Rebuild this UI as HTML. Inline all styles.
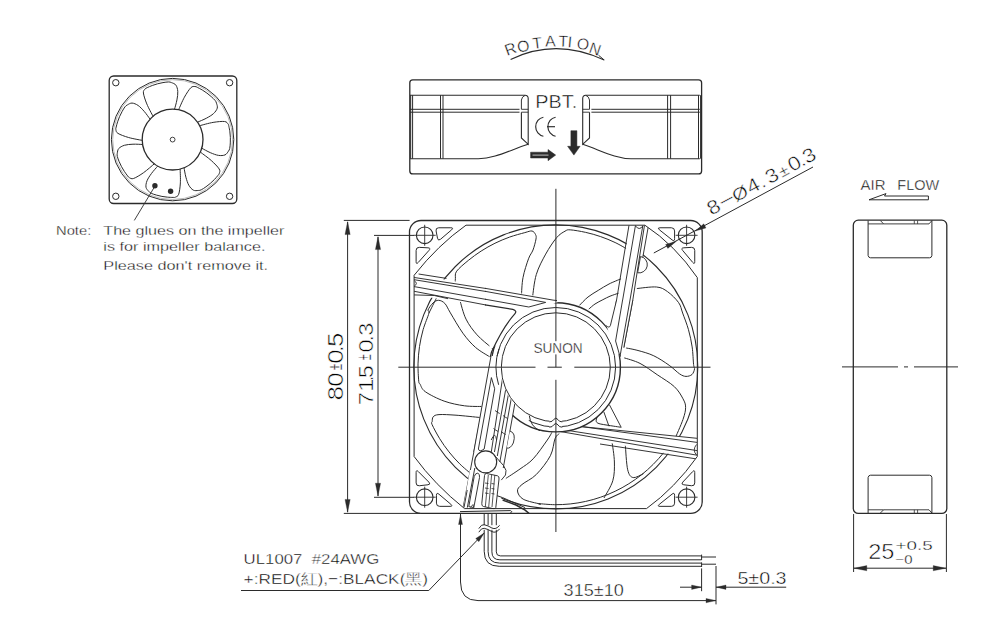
<!DOCTYPE html>
<html><head><meta charset="utf-8"><style>
html,body{margin:0;padding:0;background:#fff;width:1000px;height:639px;overflow:hidden}
svg{display:block;font-family:"Liberation Sans",sans-serif}
</style></head><body>
<svg width="1000" height="639" viewBox="0 0 1000 639">
<rect x="109.2" y="76.0" width="127.60000000000001" height="127.5" rx="4.5" stroke="#2b2b2b" stroke-width="1.3" fill="none"/>
<circle cx="115.80" cy="82.70" r="3.20" stroke="#2b2b2b" stroke-width="1.0" fill="none" />
<circle cx="229.60" cy="82.70" r="3.20" stroke="#2b2b2b" stroke-width="1.0" fill="none" />
<circle cx="115.80" cy="196.30" r="3.20" stroke="#2b2b2b" stroke-width="1.0" fill="none" />
<circle cx="229.60" cy="196.30" r="3.20" stroke="#2b2b2b" stroke-width="1.0" fill="none" />
<circle cx="172.60" cy="139.60" r="61.20" stroke="#2b2b2b" stroke-width="1.0" fill="none" />
<circle cx="172.60" cy="139.60" r="59.90" stroke="#777" stroke-width="0.5" fill="none" />
<circle cx="172.60" cy="139.60" r="30.40" stroke="#2b2b2b" stroke-width="1.3" fill="none" />
<circle cx="172.60" cy="139.60" r="2.40" stroke="#2b2b2b" stroke-width="0.9" fill="none" />
<path d="M142.21,140.40 C139.95,139.92 132.69,138.70 128.65,137.53 C124.61,136.36 120.08,134.70 117.95,133.37 C115.82,132.05 116.17,130.65 115.88,129.60 C115.58,128.55 115.88,128.40 116.17,127.09 C116.46,125.78 117.06,123.50 117.63,121.74 C118.20,119.98 118.86,118.25 119.59,116.55 C120.33,114.86 121.15,113.19 122.05,111.58 C122.94,109.96 124.08,107.97 124.97,106.86 C125.85,105.75 126.20,105.53 127.38,104.90 C128.56,104.27 130.23,102.97 132.02,103.07 C133.82,103.16 136.08,104.08 138.13,105.49 C140.17,106.89 142.30,109.20 144.29,111.49 C146.28,113.77 149.11,117.90 150.08,119.18" stroke="#2b2b2b" stroke-width="1.0" fill="none" />
<path d="M153.03,116.34 C151.99,114.27 148.42,107.84 146.82,103.95 C145.21,100.05 143.69,95.48 143.40,92.99 C143.10,90.51 144.42,89.90 145.05,89.01 C145.69,88.13 145.99,88.27 147.20,87.68 C148.40,87.09 150.56,86.13 152.29,85.49 C154.02,84.84 155.79,84.27 157.57,83.79 C159.35,83.31 161.17,82.91 162.99,82.60 C164.81,82.30 167.07,81.94 168.50,81.95 C169.92,81.95 170.31,82.08 171.53,82.61 C172.76,83.14 174.82,83.64 175.87,85.10 C176.91,86.56 177.60,88.90 177.78,91.38 C177.96,93.85 177.47,96.95 176.93,99.94 C176.39,102.92 174.92,107.71 174.52,109.26" stroke="#2b2b2b" stroke-width="1.0" fill="none" />
<path d="M178.59,109.80 C179.56,107.70 182.36,100.89 184.40,97.21 C186.44,93.53 189.07,89.49 190.83,87.71 C192.59,85.93 193.89,86.58 194.97,86.52 C196.06,86.47 196.14,86.79 197.35,87.37 C198.57,87.95 200.66,89.03 202.25,89.98 C203.83,90.93 205.38,91.96 206.86,93.05 C208.35,94.15 209.79,95.32 211.17,96.55 C212.54,97.78 214.23,99.33 215.12,100.44 C216.00,101.56 216.14,101.95 216.49,103.23 C216.85,104.52 217.74,106.45 217.25,108.17 C216.75,109.90 215.35,111.90 213.53,113.58 C211.71,115.26 208.98,116.82 206.31,118.25 C203.64,119.69 198.98,121.53 197.52,122.19" stroke="#2b2b2b" stroke-width="1.0" fill="none" />
<path d="M199.63,125.70 C201.88,125.15 208.95,123.10 213.10,122.40 C217.25,121.70 222.04,121.23 224.54,121.50 C227.03,121.77 227.32,123.18 228.05,124.00 C228.77,124.81 228.56,125.08 228.87,126.39 C229.17,127.69 229.63,130.01 229.88,131.84 C230.12,133.67 230.29,135.52 230.36,137.37 C230.43,139.21 230.41,141.07 230.30,142.91 C230.20,144.76 230.04,147.04 229.72,148.43 C229.40,149.82 229.18,150.16 228.40,151.24 C227.61,152.32 226.67,154.22 225.01,154.91 C223.35,155.60 220.91,155.76 218.46,155.38 C216.01,155.00 213.09,153.84 210.31,152.65 C207.52,151.45 203.18,148.96 201.75,148.23" stroke="#2b2b2b" stroke-width="1.0" fill="none" />
<path d="M200.33,152.07 C202.15,153.48 208.16,157.73 211.30,160.54 C214.43,163.35 217.79,166.81 219.13,168.92 C220.48,171.03 219.55,172.15 219.37,173.22 C219.18,174.30 218.85,174.30 218.01,175.36 C217.18,176.41 215.65,178.21 214.38,179.54 C213.10,180.88 211.75,182.16 210.36,183.36 C208.96,184.57 207.50,185.71 205.99,186.78 C204.48,187.85 202.60,189.15 201.31,189.76 C200.03,190.38 199.62,190.42 198.29,190.48 C196.95,190.54 194.88,190.99 193.31,190.12 C191.73,189.26 190.09,187.44 188.86,185.29 C187.63,183.14 186.71,180.14 185.91,177.21 C185.10,174.29 184.34,169.34 184.03,167.77" stroke="#2b2b2b" stroke-width="1.0" fill="none" />
<path d="M180.14,169.05 C180.18,171.36 180.60,178.71 180.36,182.91 C180.12,187.11 179.50,191.89 178.69,194.26 C177.88,196.63 176.43,196.61 175.47,197.13 C174.52,197.65 174.30,197.39 172.96,197.40 C171.62,197.41 169.26,197.33 167.42,197.17 C165.58,197.00 163.74,196.75 161.93,196.41 C160.11,196.06 158.30,195.63 156.53,195.12 C154.76,194.61 152.56,193.94 151.28,193.33 C150.00,192.71 149.71,192.41 148.83,191.41 C147.95,190.40 146.31,189.06 146.01,187.29 C145.71,185.52 146.10,183.11 147.01,180.80 C147.93,178.50 149.71,175.91 151.49,173.46 C153.27,171.01 156.67,167.33 157.70,166.10" stroke="#2b2b2b" stroke-width="1.0" fill="none" />
<path d="M154.27,163.86 C152.49,165.32 147.01,170.24 143.58,172.67 C140.14,175.10 136.02,177.60 133.66,178.44 C131.30,179.28 130.42,178.13 129.41,177.71 C128.41,177.29 128.48,176.96 127.64,175.92 C126.79,174.87 125.38,172.98 124.36,171.44 C123.34,169.90 122.40,168.30 121.53,166.67 C120.67,165.04 119.88,163.36 119.17,161.65 C118.47,159.95 117.62,157.82 117.30,156.43 C116.99,155.04 117.04,154.63 117.28,153.32 C117.51,152.01 117.54,149.88 118.74,148.54 C119.93,147.20 122.06,146.01 124.43,145.28 C126.81,144.56 129.94,144.34 132.97,144.21 C135.99,144.07 140.99,144.43 142.59,144.48" stroke="#2b2b2b" stroke-width="1.0" fill="none" />
<circle cx="154.90" cy="185.70" r="2.70" stroke="#2b2b2b" stroke-width="0" fill="#2b2b2b" />
<circle cx="170.60" cy="191.20" r="2.70" stroke="#2b2b2b" stroke-width="0" fill="#2b2b2b" />
<line x1="155.00" y1="186.00" x2="134.30" y2="220.40" stroke="#2b2b2b" stroke-width="0.9" />
<text x="56.00" y="235.20" font-size="13.6" fill="#000" stroke="#fff" stroke-width="0.35" textLength="35.30" lengthAdjust="spacingAndGlyphs" >Note:</text>
<text x="103.30" y="235.20" font-size="13.6" fill="#000" stroke="#fff" stroke-width="0.35" textLength="181.00" lengthAdjust="spacingAndGlyphs" >The glues on the impeller</text>
<text x="103.30" y="251.20" font-size="13.6" fill="#000" stroke="#fff" stroke-width="0.35" textLength="162.10" lengthAdjust="spacingAndGlyphs" >is for impeller balance.</text>
<text x="103.30" y="269.60" font-size="13.6" fill="#000" stroke="#fff" stroke-width="0.35" textLength="164.80" lengthAdjust="spacingAndGlyphs" >Please don&#39;t remove it.</text>
<rect x="409.8" y="79.8" width="291.8" height="94.1" rx="3" stroke="#2b2b2b" stroke-width="1.3" fill="none"/>
<path d="M410,95.2 L525,95.2 Q528.2,95.4 528.2,98.5 L528.2,144.3 L521.4,138 L521.4,112.2" stroke="#2b2b2b" stroke-width="1.1" fill="none" />
<path d="M521.4,109.3 L521.4,100 Q522,96.5 525,95.4" stroke="#2b2b2b" stroke-width="0.95" fill="none" />
<line x1="410.00" y1="109.30" x2="519.50" y2="109.30" stroke="#2b2b2b" stroke-width="1.0" />
<line x1="410.00" y1="112.20" x2="519.50" y2="112.20" stroke="#2b2b2b" stroke-width="1.0" />
<line x1="521.40" y1="109.30" x2="528.20" y2="109.30" stroke="#2b2b2b" stroke-width="0.9" />
<line x1="521.40" y1="112.20" x2="528.20" y2="112.20" stroke="#2b2b2b" stroke-width="0.9" />
<path d="M410,158.7 L478.4,158.7 C495,158.7 510,150 528.2,144.3" stroke="#2b2b2b" stroke-width="1.1" fill="none" />
<line x1="410.70" y1="95.20" x2="410.70" y2="158.70" stroke="#2b2b2b" stroke-width="1.0" />
<line x1="412.60" y1="95.20" x2="412.60" y2="158.70" stroke="#2b2b2b" stroke-width="1.0" />
<line x1="440.50" y1="95.20" x2="440.50" y2="158.70" stroke="#2b2b2b" stroke-width="1.0" />
<line x1="443.00" y1="95.20" x2="443.00" y2="158.70" stroke="#2b2b2b" stroke-width="1.0" />
<path d="M699.8,95.2 L585.9,95.2 Q582.7,95.4 582.7,98.5 L582.7,144.3 L589.5,138 L589.5,112.2" stroke="#2b2b2b" stroke-width="1.1" fill="none" />
<path d="M589.5,109.3 L589.5,100 Q588.9,96.5 585.9,95.4" stroke="#2b2b2b" stroke-width="0.95" fill="none" />
<line x1="591.40" y1="109.30" x2="699.80" y2="109.30" stroke="#2b2b2b" stroke-width="1.0" />
<line x1="591.40" y1="112.20" x2="699.80" y2="112.20" stroke="#2b2b2b" stroke-width="1.0" />
<line x1="582.70" y1="109.30" x2="589.50" y2="109.30" stroke="#2b2b2b" stroke-width="0.9" />
<line x1="582.70" y1="112.20" x2="589.50" y2="112.20" stroke="#2b2b2b" stroke-width="0.9" />
<path d="M699.8,158.7 L631,158.7 C615,158.7 600,150 582.7,144.3" stroke="#2b2b2b" stroke-width="1.1" fill="none" />
<line x1="667.60" y1="95.20" x2="667.60" y2="158.70" stroke="#2b2b2b" stroke-width="1.0" />
<line x1="670.60" y1="95.20" x2="670.60" y2="158.70" stroke="#2b2b2b" stroke-width="1.0" />
<line x1="698.50" y1="95.20" x2="698.50" y2="158.70" stroke="#2b2b2b" stroke-width="1.0" />
<line x1="700.60" y1="95.20" x2="700.60" y2="158.70" stroke="#2b2b2b" stroke-width="1.0" />
<text x="535.20" y="107.80" font-size="18.4" fill="#000" stroke="#fff" stroke-width="0.48" textLength="42.00" lengthAdjust="spacingAndGlyphs" >PBT.</text>
<path d="M543.4,117.2 A9.0,9.6 0 0 0 543.4,136.2" stroke="#2b2b2b" stroke-width="1.15" fill="none" />
<path d="M555.6,117.2 A9.0,9.6 0 0 0 555.6,136.2" stroke="#2b2b2b" stroke-width="1.15" fill="none" />
<line x1="547.00" y1="126.70" x2="555.00" y2="126.70" stroke="#2b2b2b" stroke-width="1.15" />
<path d="M530.6,152.2 L548,152.2 L548,149.5 L555.7,155.1 L548,160.7 L548,158 L530.6,158 Z" stroke="#2b2b2b" stroke-width="0.5" fill="#2b2b2b" />
<line x1="532.50" y1="155.10" x2="548.50" y2="155.10" stroke="#fff" stroke-width="0.7" />
<path d="M570.9,130.7 L576.9,130.7 L576.9,146.3 L580.1,146.3 L573.9,155.1 L567.6,146.3 L570.9,146.3 Z" stroke="#2b2b2b" stroke-width="0.5" fill="#2b2b2b" />
<path d="M510.6,59.4 Q556,37.5 604.2,60" stroke="#2b2b2b" stroke-width="1.1" fill="none" />
<path d="M604.2,60 L598.5,55.2" stroke="#2b2b2b" stroke-width="1.0" fill="none" />
<text x="0" y="5.8" font-size="15.8" fill="#000" stroke="#fff" stroke-width="0.41" text-anchor="middle" transform="translate(510.3,48.6) rotate(-20)">R</text>
<text x="0" y="5.8" font-size="15.8" fill="#000" stroke="#fff" stroke-width="0.41" text-anchor="middle" transform="translate(523.2,45.9) rotate(-13)">O</text>
<text x="0" y="5.8" font-size="15.8" fill="#000" stroke="#fff" stroke-width="0.41" text-anchor="middle" transform="translate(537,42.6) rotate(-7)">T</text>
<text x="0" y="5.8" font-size="15.8" fill="#000" stroke="#fff" stroke-width="0.41" text-anchor="middle" transform="translate(550.2,40.8) rotate(-2)">A</text>
<text x="0" y="5.8" font-size="15.8" fill="#000" stroke="#fff" stroke-width="0.41" text-anchor="middle" transform="translate(563.4,40.8) rotate(2)">T</text>
<text x="0" y="5.8" font-size="15.8" fill="#000" stroke="#fff" stroke-width="0.41" text-anchor="middle" transform="translate(570,41.4) rotate(5)">I</text>
<text x="0" y="5.8" font-size="15.8" fill="#000" stroke="#fff" stroke-width="0.41" text-anchor="middle" transform="translate(583.2,43.8) rotate(11)">O</text>
<text x="0" y="5.8" font-size="15.8" fill="#000" stroke="#fff" stroke-width="0.41" text-anchor="middle" transform="translate(595.2,48.6) rotate(19)">N</text>
<circle cx="555.80" cy="366.90" r="142.00" stroke="#2b2b2b" stroke-width="1.1" fill="none" />
<defs><clipPath id="oct"><path d="M466,225.2 L644.9,225.2 Q675,245 697.3,277.6 L697.3,456.5 Q675,488 646.5,508.6 L464.5,508.6 Q435,485 414.1,456.5 L414.1,275.3 Q438,245 466,225.2Z"/></clipPath></defs><g clip-path="url(#oct)">
<path d="M455.20,286.00 C455.23,284.75 455.15,280.97 455.40,278.50 C455.65,276.03 454.52,274.19 456.67,271.18 C458.83,268.16 464.25,263.77 468.33,260.42 C472.41,257.07 476.71,253.93 481.15,251.07 C485.59,248.21 490.22,245.59 494.96,243.26 C499.70,240.93 504.60,238.86 509.57,237.08 C514.55,235.31 521.06,233.65 524.80,232.63 C528.54,231.62 530.22,230.69 532.00,231.00 C533.78,231.31 534.83,233.17 535.50,234.50 C536.17,235.83 536.42,236.42 536.00,239.00 C535.58,241.58 534.25,246.70 533.00,250.00 C531.75,253.30 530.17,254.20 528.50,258.80 C526.83,263.40 524.18,271.40 523.00,277.60 C521.82,283.80 521.67,292.93 521.40,296.00" stroke="#2b2b2b" stroke-width="1.0" fill="none" />
<path d="M532.40,298.00 C533.05,294.08 534.08,281.82 536.30,274.50 C538.52,267.18 542.32,260.23 545.70,254.10 C549.08,247.97 553.38,241.52 556.60,237.70 C559.82,233.88 562.73,232.51 565.00,231.20 C567.27,229.89 566.77,229.66 570.20,229.85 C573.64,230.05 580.55,231.24 585.63,232.37 C590.70,233.49 595.75,234.91 600.66,236.61 C605.58,238.30 610.43,240.29 615.12,242.52 C619.82,244.76 626.54,248.79 628.82,250.04" stroke="#2b2b2b" stroke-width="1.0" fill="none" />
<path d="M636.30,288.60 C639.68,288.33 651.38,286.48 656.60,287.00 C661.82,287.52 663.93,289.10 667.60,291.70 C671.27,294.30 676.09,299.04 678.60,302.60 C681.11,306.16 681.00,308.54 682.65,313.06 C684.29,317.57 686.90,324.04 688.48,329.69 C690.06,335.33 691.30,341.13 692.15,346.93 C692.99,352.73 693.19,360.82 693.58,364.50 C693.97,368.17 694.76,367.33 694.50,369.00 C694.24,370.67 693.42,373.27 692.00,374.50 C690.58,375.73 688.07,376.50 686.00,376.40 C683.93,376.30 682.40,375.75 679.60,373.90 C676.80,372.05 673.50,368.32 669.20,365.30 C664.90,362.28 659.00,358.27 653.80,355.80 C648.60,353.33 642.93,351.87 638.00,350.50 C633.07,349.13 626.50,348.08 624.20,347.60" stroke="#2b2b2b" stroke-width="1.0" fill="none" />
<path d="M623.50,357.60 C626.25,358.57 634.38,360.55 640.00,363.40 C645.62,366.25 651.47,370.82 657.20,374.70 C662.93,378.58 670.10,382.68 674.40,386.70 C678.70,390.72 681.13,395.35 683.00,398.80 C684.87,402.25 685.60,403.97 685.60,407.40 C685.60,410.83 684.87,413.97 683.00,419.40 C681.13,424.83 675.83,436.57 674.40,440.00" stroke="#2b2b2b" stroke-width="1.0" fill="none" />
<path d="M489.50,356.70 C487.15,355.13 479.83,351.22 475.40,347.30 C470.97,343.38 467.07,338.93 462.90,333.20 C458.73,327.47 453.40,317.85 450.40,312.90 C447.40,307.95 446.87,305.60 444.90,303.50 C442.93,301.40 440.58,300.38 438.60,300.30 C436.62,300.22 434.77,301.38 433.00,303.00 C431.23,304.62 428.67,308.32 428.00,310.00 C427.33,311.68 429.76,309.81 428.95,313.06 C428.15,316.31 424.75,323.92 423.17,329.50 C421.60,335.07 420.37,340.80 419.51,346.53 C418.66,352.26 418.16,358.10 418.03,363.89 C417.91,369.69 418.43,377.95 418.75,381.30 C419.08,384.66 418.91,382.27 420.00,384.00 C421.09,385.73 421.28,388.85 425.30,391.70 C429.32,394.55 437.57,398.75 444.10,401.10 C450.63,403.45 458.02,404.90 464.50,405.80 C470.98,406.70 479.92,406.38 483.00,406.50" stroke="#2b2b2b" stroke-width="1.0" fill="none" />
<path d="M436.46,298.00 C435.21,300.51 430.21,310.55 428.95,313.06" stroke="#2b2b2b" stroke-width="1.0" fill="none" />
<path d="M459.80,300.00 C460.83,303.18 463.13,313.30 466.00,319.10 C468.87,324.90 472.83,330.10 477.00,334.80 C481.17,339.50 488.17,344.77 491.00,347.30 C493.83,349.83 493.50,349.55 494.00,350.00" stroke="#2b2b2b" stroke-width="1.0" fill="none" />
<path d="M480.00,417.50 C476.00,417.12 462.83,415.68 456.00,415.20 C449.17,414.72 442.80,414.33 439.00,414.60 C435.20,414.87 434.33,415.65 433.20,416.80 C432.07,417.95 432.39,420.20 432.20,421.50 C432.01,422.80 430.83,421.72 432.09,424.59 C433.34,427.46 436.91,434.18 439.73,438.73 C442.54,443.28 445.64,447.69 448.97,451.87 C452.30,456.06 455.90,460.08 459.70,463.84 C463.50,467.61 469.75,472.69 471.76,474.46" stroke="#2b2b2b" stroke-width="1.0" fill="none" />
<path d="M505.00,479.00 C507.50,477.33 515.30,472.37 520.00,469.00 C524.70,465.63 528.65,463.63 533.20,458.80 C537.75,453.97 544.17,444.43 547.30,440.00 C550.43,435.57 551.22,433.50 552.00,432.20" stroke="#2b2b2b" stroke-width="1.0" fill="none" />
<path d="M559.80,433.00 C559.02,433.92 556.67,434.72 555.10,438.50 C553.53,442.28 553.53,449.70 550.40,455.70 C547.27,461.70 541.03,469.70 536.30,474.50 C531.57,479.30 525.13,481.75 522.00,484.50 C518.87,487.25 517.30,488.55 517.50,491.00 C517.70,493.45 519.45,497.03 523.20,499.20 C526.95,501.37 537.37,503.25 540.00,504.00 C542.63,504.75 536.57,503.56 539.01,503.67 C541.44,503.79 549.40,504.65 554.60,504.69 C559.80,504.74 565.03,504.49 570.20,503.95 C575.38,503.40 580.55,502.56 585.63,501.43 C590.70,500.31 595.75,498.89 600.66,497.19 C605.58,495.50 610.43,493.51 615.12,491.28 C619.82,489.04 624.41,486.52 628.82,483.76 C633.23,481.01 637.51,477.98 641.58,474.74 C645.65,471.51 649.56,468.02 653.24,464.34 C656.92,460.66 660.41,456.75 663.64,452.68 C666.88,448.61 671.16,442.05 672.66,439.92" stroke="#2b2b2b" stroke-width="1.0" fill="none" />
<path d="M625.30,444.70 C625.70,448.88 626.38,464.32 627.70,469.80 C629.02,475.28 630.57,476.97 633.20,477.60 C635.83,478.23 641.78,474.27 643.50,473.60" stroke="#2b2b2b" stroke-width="1.0" fill="none" />
<path d="M612.00,441.60 C612.40,445.00 614.27,455.48 614.40,462.00 C614.53,468.52 614.53,474.70 612.80,480.70 C611.07,486.70 605.47,495.12 604.00,498.00" stroke="#2b2b2b" stroke-width="1.0" fill="none" />
<path d="M579.40,305.40 C580.83,304.00 584.87,299.50 588.00,297.00 C591.13,294.50 594.70,292.57 598.20,290.40 C601.70,288.23 605.20,285.93 609.00,284.00 C612.80,282.07 619.00,279.67 621.00,278.80" stroke="#2b2b2b" stroke-width="1.0" fill="none" />
<path d="M588.80,309.10 C589.83,308.25 592.65,305.57 595.00,304.00 C597.35,302.43 600.40,301.00 602.90,299.70 C605.40,298.40 607.40,297.28 610.00,296.20 C612.60,295.12 617.08,293.70 618.50,293.20" stroke="#2b2b2b" stroke-width="1.0" fill="none" />
<polygon points="413.6,274 556,299.5 530,318 511,311 509,309.5 413.6,295" fill="#fff"/>
<line x1="418.60" y1="274.00" x2="446.50" y2="278.40" stroke="#2b2b2b" stroke-width="0.95" />
<line x1="413.60" y1="277.40" x2="486.00" y2="288.50" stroke="#2b2b2b" stroke-width="0.95" />
<line x1="413.60" y1="279.60" x2="486.00" y2="291.50" stroke="#2b2b2b" stroke-width="0.95" />
<line x1="413.60" y1="286.50" x2="486.00" y2="299.40" stroke="#2b2b2b" stroke-width="0.95" />
<line x1="413.60" y1="291.20" x2="486.00" y2="305.00" stroke="#2b2b2b" stroke-width="0.95" />
<path d="M413.6,294.9 L434.3,295.5 L448,298.7" stroke="#2b2b2b" stroke-width="0.95" fill="none" />
<path d="M414.2,280.6 Q418.5,283.5 414.2,286.2" stroke="#2b2b2b" stroke-width="0.9" fill="none" />
<polygon points="629,225.2 648.3,225.2 623.8,360 612,360" fill="#fff"/>
<path d="M629.0,225.2 L612.8,322.6" stroke="#2b2b2b" stroke-width="0.95" fill="none" />
<path d="M635.5,225.2 L615.6,341 L620,356.4" stroke="#2b2b2b" stroke-width="0.95" fill="none" />
<path d="M642.9,225.2 L630,300 L620,356.4" stroke="#2b2b2b" stroke-width="0.95" fill="none" />
<path d="M644.5,225.2 L632.8,300 L623.8,347.6" stroke="#2b2b2b" stroke-width="0.95" fill="none" />
<path d="M648.3,226.5 L640,273" stroke="#2b2b2b" stroke-width="0.95" fill="none" />
<path d="M635.6,226 Q639.2,231 642.8,226" stroke="#2b2b2b" stroke-width="0.95" fill="none" />
<path d="M640.5,256.5 A8.2,8.2 0 0 1 637.6,272.8 Z" fill="#fff" stroke="#2b2b2b" stroke-width="0.95"/>
<polygon points="540,422 697,438.3 697,459 540,430" fill="#fff"/>
<line x1="556.00" y1="424.00" x2="697.00" y2="438.30" stroke="#2b2b2b" stroke-width="0.95" />
<path d="M565,431 L581.6,426.6 L697,442.4" stroke="#2b2b2b" stroke-width="0.95" fill="none" />
<line x1="556.00" y1="428.60" x2="697.00" y2="450.60" stroke="#2b2b2b" stroke-width="0.95" />
<line x1="556.00" y1="430.80" x2="697.00" y2="455.20" stroke="#2b2b2b" stroke-width="0.95" />
<line x1="600.00" y1="444.00" x2="697.00" y2="459.00" stroke="#2b2b2b" stroke-width="0.95" />
<path d="M696.5,444.5 Q692,450 696.5,455" stroke="#2b2b2b" stroke-width="0.9" fill="none" />
<path d="M597.00,417.20 C596.87,417.87 595.87,420.13 596.20,421.20 C596.53,422.27 596.90,422.90 599.00,423.60 C601.10,424.30 605.10,424.78 608.80,425.40 C612.50,426.02 619.13,426.98 621.20,427.30" stroke="#2b2b2b" stroke-width="1.0" fill="none" />
<line x1="621.20" y1="427.30" x2="609.40" y2="404.70" stroke="#2b2b2b" stroke-width="0.95" />
<line x1="603.80" y1="411.80" x2="609.00" y2="426.30" stroke="#2b2b2b" stroke-width="0.95" />
<polygon points="463.1,508 492,350 530,360 512,410 500,508" fill="#fff"/>
<line x1="492.00" y1="358.00" x2="463.10" y2="507.60" stroke="#2b2b2b" stroke-width="0.95" />
</g>
<circle cx="555.80" cy="367.30" r="64.60" stroke="#2b2b2b" stroke-width="1.4" fill="#fff" />
<circle cx="555.80" cy="367.30" r="59.80" stroke="#2b2b2b" stroke-width="1.0" fill="none" />
<circle cx="555.80" cy="367.30" r="54.50" stroke="#2b2b2b" stroke-width="1.0" fill="none" />
<path d="M528.65,420.58 A59.8,59.8 0 0 1 512.78,408.84" fill="none" stroke="#fff" stroke-width="2.6"/>
<rect x="549.5" y="417" width="12.6" height="12" fill="#fff"/>
<path d="M549.3,421.9 Q552.6,421.9 553.6,419.6 Q555.8,416.6 558.0,419.6 Q559.0,421.9 562.3,421.9" stroke="#2b2b2b" stroke-width="1.0" fill="none" />
<path d="M549.3,427.2 Q552.6,427.2 553.6,424.9 Q555.8,421.9 558.0,424.9 Q559.0,427.2 562.3,427.2" stroke="#2b2b2b" stroke-width="1.0" fill="none" />
<path d="M529.3,415.6 Q530.5,426.5 540,430.8" stroke="#2b2b2b" stroke-width="1.0" fill="none" />
<polygon points="495,289.7 558,302.0 550.37,305.24 534.49,308.76 520.07,316.27 508.08,327.25 501.85,336.15 498.04,343.96 489,350 495,289.7" fill="#fff"/>
<path d="M485,288.3 L549,299.4 Q553,300.2 557,300.6" stroke="#2b2b2b" stroke-width="0.95" fill="none" />
<line x1="485.00" y1="291.30" x2="545.70" y2="302.40" stroke="#2b2b2b" stroke-width="0.95" />
<path d="M485,299.2 L528.8,307 L545.7,302.4" stroke="#2b2b2b" stroke-width="0.95" fill="none" />
<path d="M485,304.8 L512.8,309.4 Q517.5,310.8 514.8,313.8 Q503,327 491.5,352 L490.3,357" stroke="#2b2b2b" stroke-width="1.2" fill="none" />
<polygon points="606.5,325.2 611,322 616.6,300 632.8,300 623.8,347.6 620,356.4 614.5,347 610.2,337.5" fill="#fff"/>
<path d="M616.6,300 L610.4,325.5 Q609.3,328.6 606.3,325.6" stroke="#2b2b2b" stroke-width="0.95" fill="none" />
<path d="M622.6,300 L615.6,341 L620,356.4" stroke="#2b2b2b" stroke-width="0.95" fill="none" />
<path d="M630,300 L620,356.4" stroke="#2b2b2b" stroke-width="0.95" fill="none" />
<path d="M632.8,300 L623.8,347.6" stroke="#2b2b2b" stroke-width="0.95" fill="none" />
<defs><clipPath id="noin"><path clip-rule="evenodd" d="M0,0 H1000 V639 H0 Z M611.0,367.29999999999995 A55.2,55.2 0 1 0 500.59999999999997,367.29999999999995 A55.2,55.2 0 1 0 611.0,367.29999999999995 Z"/></clipPath></defs>
<g clip-path="url(#noin)">
<polygon points="491.02,356 523.42,356 506.14,452 473.74,452" fill="#fff"/>
<line x1="491.02" y1="356.00" x2="473.74" y2="452.00" stroke="#2b2b2b" stroke-width="0.95" />
<path d="M491.4,377.6 L478.38,449 Q479.25,452.5 484.18,449 L494.7,388.8 Z" stroke="#2b2b2b" stroke-width="0.95" fill="none" />
<line x1="503.80" y1="370.00" x2="491.30" y2="451.90" stroke="#2b2b2b" stroke-width="0.95" />
<line x1="509.20" y1="370.00" x2="494.44" y2="452.00" stroke="#2b2b2b" stroke-width="0.95" />
<line x1="512.80" y1="370.00" x2="497.32" y2="456.00" stroke="#2b2b2b" stroke-width="0.95" />
<line x1="516.40" y1="370.00" x2="499.84" y2="462.00" stroke="#2b2b2b" stroke-width="0.95" />
<line x1="520.90" y1="370.00" x2="503.26" y2="468.00" stroke="#2b2b2b" stroke-width="0.95" />
<path d="M509.92,431 Q516.42,433 513.30,443 Q510.36,449 506.86,448" fill="#fff" stroke="#2b2b2b" stroke-width="0.95"/>
<path d="M491.20,440 Q495.34,430.5 496.60,440" fill="none" stroke="#2b2b2b" stroke-width="0.95"/>
<path d="M506.32,386 Q509.38,378.5 509.92,386" fill="none" stroke="#2b2b2b" stroke-width="0.95"/>
<path d="M495.00,410.50 Q497.50,412.50 499.70,413.50" stroke="#2b2b2b" stroke-width="0.9" fill="none" />
<path d="M503.00,415.50 Q505.50,417.50 507.70,418.50" stroke="#2b2b2b" stroke-width="0.9" fill="none" />
<path d="M493.50,428.50 Q496.00,430.50 498.20,431.50" stroke="#2b2b2b" stroke-width="0.9" fill="none" />
<path d="M501.00,431.50 Q503.50,433.50 505.70,434.50" stroke="#2b2b2b" stroke-width="0.9" fill="none" />
</g>
<path d="M498.61,384.78 A59.8,59.8 0 0 1 498.93,348.82" fill="none" stroke="#2b2b2b" stroke-width="1.0"/>
<polygon points="470,470 500,470 506,478 497,510 463,509" fill="#fff"/>
<line x1="464.00" y1="507.60" x2="467.20" y2="490.00" stroke="#2b2b2b" stroke-width="0.95" />
<line x1="467.30" y1="507.60" x2="474.80" y2="468.00" stroke="#2b2b2b" stroke-width="0.95" />
<path d="M468.8,506.6 L474.2,476.5 Q475.5,472.8 477.8,473.2 Q480,473.8 479.5,477.5 L473.8,507.6 Z" stroke="#2b2b2b" stroke-width="0.95" fill="none" />
<path d="M470.5,507.5 L473,504.5 L473.8,507.6" stroke="#2b2b2b" stroke-width="0.8" fill="none" />
<path d="M486.5,473.5 L497.5,475.8 Q499.5,476.5 499,479 L495.8,507.5 Q495.5,509 493,508.6 L483.5,506.5 Q481.5,506 481.8,503.5 L484.5,475.5 Q485,473.2 486.5,473.5 Z" stroke="#2b2b2b" stroke-width="0.95" fill="none" />
<line x1="488.30" y1="475.00" x2="485.30" y2="507.00" stroke="#2b2b2b" stroke-width="0.8" />
<line x1="491.60" y1="475.00" x2="488.70" y2="507.00" stroke="#2b2b2b" stroke-width="0.8" />
<line x1="494.80" y1="475.00" x2="492.00" y2="507.00" stroke="#2b2b2b" stroke-width="0.8" />
<line x1="485.00" y1="483.00" x2="488.50" y2="483.50" stroke="#2b2b2b" stroke-width="0.8" />
<line x1="491.50" y1="483.50" x2="494.50" y2="484.00" stroke="#2b2b2b" stroke-width="0.8" />
<line x1="485.00" y1="488.00" x2="488.50" y2="488.50" stroke="#2b2b2b" stroke-width="0.8" />
<line x1="491.50" y1="488.50" x2="494.50" y2="489.00" stroke="#2b2b2b" stroke-width="0.8" />
<line x1="485.00" y1="493.00" x2="488.50" y2="493.50" stroke="#2b2b2b" stroke-width="0.8" />
<line x1="491.50" y1="493.50" x2="494.50" y2="494.00" stroke="#2b2b2b" stroke-width="0.8" />
<path d="M491.3,451.9 L503.5,465.5 Q507.5,470.5 505.5,475 L501.3,480.1" stroke="#2b2b2b" stroke-width="0.95" fill="none" />
<circle cx="485.70" cy="461.90" r="11.00" stroke="#2b2b2b" stroke-width="1.1" fill="#fff" />
<path d="M497,495.7 L502.6,497.6 L525.1,507.6" stroke="#2b2b2b" stroke-width="1.0" fill="none" />
<path d="M502.6,500.1 L516,505 L525.1,510.1 L529,513.3" stroke="#2b2b2b" stroke-width="1.5" fill="none" />
<path d="M460,511.6 L510.5,510.6 Q513,511.5 510.5,513" stroke="#2b2b2b" stroke-width="1.0" fill="none" />
<rect x="409.5" y="220.5" width="292.70000000000005" height="292.9" rx="11.5" stroke="#2b2b2b" stroke-width="1.3" fill="none"/>
<path d="M466,225.2 L644.9,225.2 Q675,245 697.3,277.6 L697.3,456.5 Q675,488 646.5,508.6 L464.5,508.6 Q435,485 414.1,456.5 L414.1,275.3 Q438,245 466,225.2" stroke="#2b2b2b" stroke-width="1.0" fill="none" />
<path d="M436.09,230.92 Q435.49,227.78 438.69,227.78 L450.82,227.78 Q454.02,227.78 451.58,229.85 L440.53,239.27 Q438.09,241.34 437.49,238.20 Z" stroke="#2b2b2b" stroke-width="1.0" fill="none" />
<path d="M416.12,250.39 Q416.12,247.19 419.32,247.36 L427.96,247.82 Q431.15,247.98 429.02,250.37 L418.25,262.43 Q416.12,264.82 416.12,261.62 Z" stroke="#2b2b2b" stroke-width="1.0" fill="none" />
<path d="M659.34,229.75 Q656.84,227.76 660.04,227.76 L671.38,227.76 Q674.58,227.76 674.58,230.96 L674.58,238.68 Q674.58,241.88 672.08,239.89 Z" stroke="#2b2b2b" stroke-width="1.0" fill="none" />
<path d="M682.67,250.44 Q680.62,247.98 683.81,247.81 L691.55,247.37 Q694.74,247.19 694.74,250.39 L694.74,261.62 Q694.74,264.82 692.68,262.37 Z" stroke="#2b2b2b" stroke-width="1.0" fill="none" />
<path d="M418.39,471.65 Q416.12,469.38 416.12,472.58 L416.12,482.91 Q416.12,486.11 419.30,485.75 L427.97,484.77 Q431.15,484.41 428.89,482.15 Z" stroke="#2b2b2b" stroke-width="1.0" fill="none" />
<path d="M438.90,494.17 Q436.45,492.11 436.45,495.31 L436.45,503.15 Q436.45,506.35 439.65,506.35 L450.09,506.35 Q453.29,506.35 450.85,504.28 Z" stroke="#2b2b2b" stroke-width="1.0" fill="none" />
<path d="M692.55,471.71 Q694.74,469.38 694.74,472.58 L694.74,482.91 Q694.74,486.11 691.56,485.73 L683.79,484.79 Q680.62,484.41 682.81,482.08 Z" stroke="#2b2b2b" stroke-width="1.0" fill="none" />
<path d="M672.08,494.11 Q674.58,492.11 674.58,495.31 L674.58,503.15 Q674.58,506.35 671.38,506.35 L660.04,506.35 Q656.84,506.35 659.34,504.34 Z" stroke="#2b2b2b" stroke-width="1.0" fill="none" />
<circle cx="424.70" cy="235.30" r="8.30" stroke="#2b2b2b" stroke-width="1.1" fill="none" />
<line x1="413.70" y1="235.30" x2="435.70" y2="235.30" stroke="#2b2b2b" stroke-width="0.9" />
<line x1="424.70" y1="224.80" x2="424.70" y2="245.80" stroke="#2b2b2b" stroke-width="0.9" />
<circle cx="686.60" cy="235.30" r="8.30" stroke="#2b2b2b" stroke-width="1.1" fill="none" />
<line x1="675.60" y1="235.30" x2="697.60" y2="235.30" stroke="#2b2b2b" stroke-width="0.9" />
<line x1="686.60" y1="224.80" x2="686.60" y2="245.80" stroke="#2b2b2b" stroke-width="0.9" />
<circle cx="424.70" cy="497.20" r="8.30" stroke="#2b2b2b" stroke-width="1.1" fill="none" />
<line x1="413.70" y1="497.20" x2="435.70" y2="497.20" stroke="#2b2b2b" stroke-width="0.9" />
<line x1="424.70" y1="486.70" x2="424.70" y2="507.70" stroke="#2b2b2b" stroke-width="0.9" />
<circle cx="686.60" cy="497.20" r="8.30" stroke="#2b2b2b" stroke-width="1.1" fill="none" />
<line x1="675.60" y1="497.20" x2="697.60" y2="497.20" stroke="#2b2b2b" stroke-width="0.9" />
<line x1="686.60" y1="486.70" x2="686.60" y2="507.70" stroke="#2b2b2b" stroke-width="0.9" />
<line x1="398.3" y1="367.2" x2="710.5" y2="367.2" stroke="#2b2b2b" stroke-width="1" stroke-dasharray="137.2,12,14.3,12.5,200"/>
<line x1="555.9" y1="188.8" x2="555.9" y2="532" stroke="#2b2b2b" stroke-width="1" stroke-dasharray="178.4,12.6,200"/>
<rect x="548" y="341.2" width="16" height="13.2" fill="#fff"/>
<text x="533.40" y="352.80" font-size="14.6" fill="#000" stroke="#fff" stroke-width="0.38" textLength="49.20" lengthAdjust="spacingAndGlyphs" >SUNON</text>
<line x1="343.80" y1="220.40" x2="409.60" y2="220.40" stroke="#2b2b2b" stroke-width="1.0" />
<line x1="343.80" y1="513.40" x2="420.00" y2="513.40" stroke="#2b2b2b" stroke-width="1.0" />
<line x1="347.60" y1="222.00" x2="347.60" y2="512.00" stroke="#2b2b2b" stroke-width="1.0" />
<path d="M347.60,221.60 L350.20,234.60 L345.00,234.60 Z" stroke="#2b2b2b" stroke-width="0.3" fill="#2b2b2b" />
<path d="M347.60,512.40 L345.00,499.40 L350.20,499.40 Z" stroke="#2b2b2b" stroke-width="0.3" fill="#2b2b2b" />
<line x1="374.00" y1="235.40" x2="414.00" y2="235.40" stroke="#2b2b2b" stroke-width="1.0" />
<line x1="374.00" y1="497.30" x2="414.00" y2="497.30" stroke="#2b2b2b" stroke-width="1.0" />
<line x1="378.00" y1="237.00" x2="378.00" y2="496.00" stroke="#2b2b2b" stroke-width="1.0" />
<path d="M378.00,236.60 L380.60,249.60 L375.40,249.60 Z" stroke="#2b2b2b" stroke-width="0.3" fill="#2b2b2b" />
<path d="M378.00,496.20 L375.40,483.20 L380.60,483.20 Z" stroke="#2b2b2b" stroke-width="0.3" fill="#2b2b2b" />
<g transform="rotate(-90)">
<text x="0" y="0" font-size="22.5" fill="#000" stroke="#fff" stroke-width="0.58" text-anchor="middle" transform="translate(-393.3,343.3) scale(1.15,1)">8</text>
<text x="0" y="0" font-size="22.5" fill="#000" stroke="#fff" stroke-width="0.58" text-anchor="middle" transform="translate(-379.6,343.3) scale(1.15,1)">0</text>
<text x="0" y="0" font-size="21" fill="#000" stroke="#fff" stroke-width="0.55" text-anchor="middle" transform="translate(-366.9,341.5) scale(0.52,1)">±</text>
<text x="0" y="0" font-size="22.5" fill="#000" stroke="#fff" stroke-width="0.58" text-anchor="middle" transform="translate(-356.5,343.3) scale(1.15,1)">0</text>
<text x="0" y="0" font-size="22.5" fill="#000" stroke="#fff" stroke-width="0.58" text-anchor="middle" transform="translate(-348.6,343.3) scale(1.15,1)">.</text>
<text x="0" y="0" font-size="22.5" fill="#000" stroke="#fff" stroke-width="0.58" text-anchor="middle" transform="translate(-339.9,343.3) scale(1.15,1)">5</text>
</g>
<g transform="rotate(-90)">
<text x="0" y="0" font-size="20.6" fill="#000" stroke="#fff" stroke-width="0.54" text-anchor="middle" transform="translate(-398.6,372.6) scale(1.15,1)">7</text>
<text x="0" y="0" font-size="20.6" fill="#000" stroke="#fff" stroke-width="0.54" text-anchor="middle" transform="translate(-385.2,372.6) scale(1.15,1)">1</text>
<text x="0" y="0" font-size="20.6" fill="#000" stroke="#fff" stroke-width="0.54" text-anchor="middle" transform="translate(-378.4,372.6) scale(1.15,1)">.</text>
<text x="0" y="0" font-size="20.6" fill="#000" stroke="#fff" stroke-width="0.54" text-anchor="middle" transform="translate(-371.6,372.6) scale(1.15,1)">5</text>
<text x="0" y="0" font-size="20" fill="#000" stroke="#fff" stroke-width="0.52" text-anchor="middle" transform="translate(-357.5,370.8) scale(0.52,1)">±</text>
<text x="0" y="0" font-size="20.6" fill="#000" stroke="#fff" stroke-width="0.54" text-anchor="middle" transform="translate(-346.0,372.6) scale(1.15,1)">0</text>
<text x="0" y="0" font-size="20.6" fill="#000" stroke="#fff" stroke-width="0.54" text-anchor="middle" transform="translate(-338.2,372.6) scale(1.15,1)">.</text>
<text x="0" y="0" font-size="20.6" fill="#000" stroke="#fff" stroke-width="0.54" text-anchor="middle" transform="translate(-329.2,372.6) scale(1.15,1)">3</text>
</g>
<line x1="653.80" y1="253.00" x2="813.00" y2="167.00" stroke="#2b2b2b" stroke-width="1.0" />
<path d="M676.40,241.20 L667.80,248.44 L665.62,244.39 Z" stroke="#2b2b2b" stroke-width="0.3" fill="#2b2b2b" />
<path d="M695.20,231.10 L703.80,223.86 L705.98,227.91 Z" stroke="#2b2b2b" stroke-width="0.3" fill="#2b2b2b" />
<g transform="translate(713.5,206.7) rotate(-28.4)">
<text x="0" y="0" font-size="19.5" fill="#000" stroke="#fff" stroke-width="0.51" text-anchor="middle" transform="translate(0,7.0) scale(1.15,1)">8</text>
<text x="0" y="0" font-size="19.5" fill="#000" stroke="#fff" stroke-width="0.51" text-anchor="middle" transform="translate(14.7,7.0) scale(1.45,1)">−</text>
<text x="0" y="0" font-size="17.5" fill="#000" stroke="#fff" stroke-width="0.45" text-anchor="middle" transform="translate(29.6,7.0) scale(1.15,1)">Ø</text>
<text x="0" y="0" font-size="19.5" fill="#000" stroke="#fff" stroke-width="0.51" text-anchor="middle" transform="translate(44.8,7.0) scale(1.15,1)">4</text>
<text x="0" y="0" font-size="19.5" fill="#000" stroke="#fff" stroke-width="0.51" text-anchor="middle" transform="translate(54.5,7.0) scale(1.15,1)">.</text>
<text x="0" y="0" font-size="19.5" fill="#000" stroke="#fff" stroke-width="0.51" text-anchor="middle" transform="translate(66.1,7.0) scale(1.15,1)">3</text>
<text x="0" y="0" font-size="15" fill="#000" stroke="#fff" stroke-width="0.39" text-anchor="middle" transform="translate(78.7,7.0) scale(1.15,1)">±</text>
<text x="0" y="0" font-size="19.5" fill="#000" stroke="#fff" stroke-width="0.51" text-anchor="middle" transform="translate(91.8,7.0) scale(1.15,1)">0</text>
<text x="0" y="0" font-size="19.5" fill="#000" stroke="#fff" stroke-width="0.51" text-anchor="middle" transform="translate(99.6,7.0) scale(1.15,1)">.</text>
<text x="0" y="0" font-size="19.5" fill="#000" stroke="#fff" stroke-width="0.51" text-anchor="middle" transform="translate(108.5,7.0) scale(1.15,1)">3</text>
</g>
<rect x="853.3" y="220.2" width="93.5" height="293.2" rx="5" stroke="#2b2b2b" stroke-width="1.3" fill="none"/>
<path d="M868.1,220.6 L868.1,255.5 Q868.6,257.8 870.5,257.8 L929.5,257.8 Q931.6,257.8 931.9,255.5 L931.9,220.6" stroke="#2b2b2b" stroke-width="1.0" fill="none" />
<path d="M868.1,223.9 L883.6,223.9 L880.4,220.6 M883.6,223.9 L929,223.9 L931.9,220.6" stroke="#2b2b2b" stroke-width="0.9" fill="none" />
<line x1="914.30" y1="220.60" x2="914.30" y2="223.90" stroke="#2b2b2b" stroke-width="0.8" />
<line x1="917.60" y1="220.60" x2="917.60" y2="223.90" stroke="#2b2b2b" stroke-width="0.8" />
<path d="M868.1,513 L868.1,477.5 Q868.6,475.2 870.5,475.2 L929.5,475.2 Q931.6,475.2 931.9,477.5 L931.9,513" stroke="#2b2b2b" stroke-width="1.0" fill="none" />
<path d="M868.1,509.8 L883.6,509.8 L880.4,513 M883.6,509.8 L929,509.8 L931.9,513" stroke="#2b2b2b" stroke-width="0.9" fill="none" />
<line x1="914.30" y1="509.80" x2="914.30" y2="513.00" stroke="#2b2b2b" stroke-width="0.8" />
<line x1="917.60" y1="509.80" x2="917.60" y2="513.00" stroke="#2b2b2b" stroke-width="0.8" />
<line x1="842" y1="366.9" x2="958" y2="366.9" stroke="#2b2b2b" stroke-width="1" stroke-dasharray="56,6,4,6,80"/>
<text x="860.50" y="190.30" font-size="15.2" fill="#000" stroke="#fff" stroke-width="0.40" textLength="25.00" lengthAdjust="spacingAndGlyphs" >AIR</text>
<text x="897.30" y="190.30" font-size="15.2" fill="#000" stroke="#fff" stroke-width="0.40" textLength="41.90" lengthAdjust="spacingAndGlyphs" >FLOW</text>
<path d="M869,199.8 L928.4,199.8 L928.4,196.0 L884.5,196.0 L886,193.6 Z" stroke="#2b2b2b" stroke-width="1.0" fill="none" stroke-linejoin="round"/>
<line x1="853.60" y1="514.00" x2="853.60" y2="572.00" stroke="#2b2b2b" stroke-width="1.0" />
<line x1="946.40" y1="514.00" x2="946.40" y2="572.00" stroke="#2b2b2b" stroke-width="1.0" />
<line x1="854.00" y1="568.20" x2="946.00" y2="568.20" stroke="#2b2b2b" stroke-width="1.0" />
<path d="M853.80,568.20 L866.80,565.60 L866.80,570.80 Z" stroke="#2b2b2b" stroke-width="0.3" fill="#2b2b2b" />
<path d="M946.20,568.20 L933.20,570.80 L933.20,565.60 Z" stroke="#2b2b2b" stroke-width="0.3" fill="#2b2b2b" />
<text x="868.20" y="558.80" font-size="21.8" fill="#000" stroke="#fff" stroke-width="0.57" textLength="26.20" lengthAdjust="spacingAndGlyphs" >25</text>
<text x="895.50" y="549.70" font-size="13.6" fill="#000" stroke="#fff" stroke-width="0.35" textLength="37.10" lengthAdjust="spacingAndGlyphs" >+0.5</text>
<text x="895.50" y="564.00" font-size="13.6" fill="#000" stroke="#fff" stroke-width="0.35" textLength="17.00" lengthAdjust="spacingAndGlyphs" >−0</text>
<line x1="496.30" y1="513.40" x2="496.30" y2="525.20" stroke="#2b2b2b" stroke-width="1.0" />
<path d="M496.3,529.8 L496.3,551.9 Q496.3,555.9 500.3,555.9 L701.6,555.9" stroke="#2b2b2b" stroke-width="1.0" fill="none" />
<line x1="491.90" y1="513.40" x2="491.90" y2="525.20" stroke="#2b2b2b" stroke-width="1.0" />
<path d="M491.9,529.8 L491.9,551.8 Q491.9,559.8 499.9,559.8 L701.6,559.8" stroke="#2b2b2b" stroke-width="1.0" fill="none" />
<line x1="488.10" y1="513.40" x2="488.10" y2="525.20" stroke="#2b2b2b" stroke-width="1.0" />
<path d="M488.1,529.8 L488.1,551.6 Q488.1,563.1 499.6,563.1 L701.6,563.1" stroke="#2b2b2b" stroke-width="1.0" fill="none" />
<line x1="484.20" y1="513.40" x2="484.20" y2="525.20" stroke="#2b2b2b" stroke-width="1.0" />
<path d="M484.2,529.8 L484.2,551.3 Q484.2,566.3 499.2,566.3 L701.6,566.3" stroke="#2b2b2b" stroke-width="1.0" fill="none" />
<path d="M478.8,528.6 Q481.5,524 484.2,524.7 Q488,525.5 491.9,528.0 Q496,530 499.6,525.3" stroke="#2b2b2b" stroke-width="1.0" fill="none" />
<path d="M478.8,532.2 Q481.5,527.6 484.2,528.3 Q488,529.1 491.9,531.6 Q496,533.6 499.6,528.9" stroke="#2b2b2b" stroke-width="1.0" fill="none" />
<line x1="701.60" y1="554.60" x2="701.60" y2="560.00" stroke="#2b2b2b" stroke-width="1.0" />
<line x1="701.60" y1="562.40" x2="701.60" y2="567.00" stroke="#2b2b2b" stroke-width="1.0" />
<line x1="701.60" y1="557.00" x2="716.00" y2="557.00" stroke="#2b2b2b" stroke-width="1.0" />
<line x1="701.60" y1="564.20" x2="716.00" y2="564.20" stroke="#2b2b2b" stroke-width="1.0" />
<line x1="701.60" y1="568.40" x2="701.60" y2="591.20" stroke="#2b2b2b" stroke-width="1.0" />
<line x1="716.00" y1="566.00" x2="716.00" y2="604.40" stroke="#2b2b2b" stroke-width="1.0" />
<line x1="460.50" y1="514.00" x2="460.50" y2="582.00" stroke="#2b2b2b" stroke-width="1.0" />
<path d="M460.5,582 Q460.5,600.6 478,600.6 L716,600.6" stroke="#2b2b2b" stroke-width="1.0" fill="none" />
<path d="M716.00,600.60 L706.00,602.80 L706.00,598.40 Z" stroke="#2b2b2b" stroke-width="0.3" fill="#2b2b2b" />
<path d="M460.50,514.50 L462.50,524.50 L458.50,524.50 Z" stroke="#2b2b2b" stroke-width="0.3" fill="#2b2b2b" />
<line x1="680.00" y1="587.20" x2="701.60" y2="587.20" stroke="#2b2b2b" stroke-width="1.0" />
<line x1="716.00" y1="587.20" x2="786.20" y2="587.20" stroke="#2b2b2b" stroke-width="1.0" />
<path d="M701.60,587.20 L691.60,589.40 L691.60,585.00 Z" stroke="#2b2b2b" stroke-width="0.3" fill="#2b2b2b" />
<path d="M716.00,587.20 L726.00,585.00 L726.00,589.40 Z" stroke="#2b2b2b" stroke-width="0.3" fill="#2b2b2b" />
<text x="563.60" y="596.30" font-size="16.8" fill="#000" stroke="#fff" stroke-width="0.44" textLength="60.20" lengthAdjust="spacingAndGlyphs" >315±10</text>
<text x="737.40" y="583.50" font-size="16.2" fill="#000" stroke="#fff" stroke-width="0.42" textLength="49.20" lengthAdjust="spacingAndGlyphs" >5±0.3</text>
<line x1="241.00" y1="590.50" x2="428.80" y2="590.50" stroke="#2b2b2b" stroke-width="1.0" />
<line x1="428.80" y1="590.50" x2="484.20" y2="532.90" stroke="#2b2b2b" stroke-width="1.0" />
<path d="M484.20,532.90 L478.87,541.64 L475.69,538.60 Z" stroke="#2b2b2b" stroke-width="0.3" fill="#2b2b2b" />
<text x="243.60" y="563.80" font-size="15.4" fill="#000" stroke="#fff" stroke-width="0.40" textLength="135.60" lengthAdjust="spacingAndGlyphs" >UL1007&#160;&#160;#24AWG</text>
<text x="243.60" y="583.80" font-size="15.4" fill="#000" stroke="#fff" stroke-width="0.40" textLength="184.40" lengthAdjust="spacingAndGlyphs" >+:RED(紅),−:BLACK(黑)</text>
</svg>
</body></html>
